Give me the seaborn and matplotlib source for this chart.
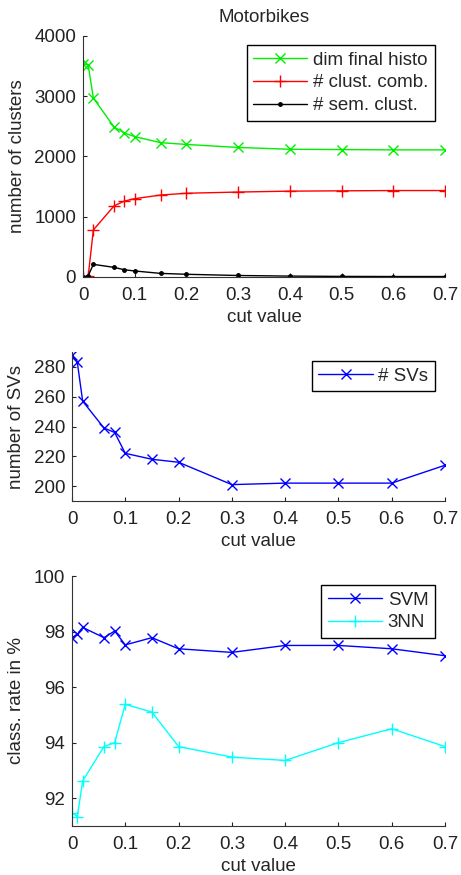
import pandas as pd
import seaborn as sns
import matplotlib.pyplot as plt

# cut values shared by all three panels
cut = [0, 0.01, 0.02, 0.06, 0.08, 0.1, 0.15, 0.2, 0.3, 0.4, 0.5, 0.6, 0.7]

# panel 1: number of clusters
dim_histo = [3540, 3520, 2970, 2490, 2390, 2330, 2230, 2200, 2150, 2120, 2115, 2110, 2110]
clust_comb = [0, 10, 780, 1180, 1260, 1300, 1360, 1390, 1410, 1425, 1430, 1435, 1435]
sem_clust = [0, 20, 210, 160, 120, 100, 60, 45, 25, 15, 10, 8, 8]

# panel 2: number of support vectors
n_svs = [288, 283, 257, 239, 236, 222, 218, 216, 201, 202, 202, 202, 214]

# panel 3: classification rate
svm = [97.78, 97.9, 98.15, 97.78, 98.02, 97.52, 97.78, 97.38, 97.25, 97.5, 97.5, 97.38, 97.13]
nn3 = [91.48, 91.34, 92.62, 93.86, 94.0, 95.38, 95.1, 93.86, 93.48, 93.36, 94.0, 94.5, 93.86]

FS = 13.5
sns.set_style("white")
plt.rcParams['font.family'] = ['Liberation Sans', 'DejaVu Sans']
plt.rcParams['font.size'] = FS
plt.rcParams['xtick.direction'] = 'in'
plt.rcParams['ytick.direction'] = 'in'
plt.rcParams['xtick.major.size'] = 3
plt.rcParams['ytick.major.size'] = 3
plt.rcParams['xtick.bottom'] = True
plt.rcParams['ytick.left'] = True

fig = plt.figure(figsize=(4.61, 8.75), dpi=100)
W, H = 461, 875
ax1 = fig.add_axes([83 / W, 1 - 277 / H, (445 - 83) / W, (277 - 36) / H])
ax2 = fig.add_axes([72 / W, 1 - 501 / H, (445 - 72) / W, (501 - 352) / H])
ax3 = fig.add_axes([72 / W, 1 - 826 / H, (445 - 72) / W, (826 - 576) / H])

lw = 1.0


def draw(ax, y, color, marker, ms, label):
    sns.lineplot(x=cut, y=y, ax=ax, color=color, marker=marker, markersize=ms,
                 markeredgewidth=1, markeredgecolor=color, markerfacecolor=color,
                 linewidth=lw, label=label)


draw(ax1, dim_histo, '#00ee00', 'x', 7, 'dim final histo')
draw(ax1, clust_comb, '#ff0000', '+', 9, '# clust. comb.')
draw(ax1, sem_clust, 'black', '.', 5, '# sem. clust.')
ax1.set_ylim(0, 4000)
ax1.set_yticks([0, 1000, 2000, 3000, 4000])
ax1.set_ylabel('number of clusters', labelpad=6)
ax1.set_title('Motorbikes', fontsize=FS, pad=10)

draw(ax2, n_svs, '#0000ff', 'x', 7, '# SVs')
ax2.set_ylim(190, 290)
ax2.set_yticks([200, 220, 240, 260, 280])
ax2.set_ylabel('number of SVs', labelpad=6)

draw(ax3, svm, '#0000ff', 'x', 7, 'SVM')
draw(ax3, nn3, '#00ffff', '+', 9, '3NN')
ax3.set_ylim(91, 100)
ax3.set_yticks([92, 94, 96, 98, 100])
ax3.set_ylabel('class. rate in %', labelpad=6)

# legend upper-right corners in pixels, per axes (x_right, y_top, axes box)
legend_pos = [
    (ax1, 435, 45, (83, 36, 445, 277)),
    (ax2, 435, 361, (72, 352, 445, 501)),
    (ax3, 435, 585, (72, 576, 445, 826)),
]

for ax, lx, ly, (x0, y0, x1, y1) in legend_pos:
    ax.set_xlim(0, 0.7)
    ax.set_xticks([0, 0.1, 0.2, 0.3, 0.4, 0.5, 0.6, 0.7])
    ax.set_xticklabels(['0', '0.1', '0.2', '0.3', '0.4', '0.5', '0.6', '0.7'])
    ax.set_xlabel('cut value', labelpad=4)
    sns.despine(ax=ax)
    for s in ('left', 'bottom'):
        ax.spines[s].set_color('#333333')
        ax.spines[s].set_linewidth(0.8)
    ax.tick_params(labelsize=FS, colors='#222222')
    ax.tick_params(axis='x', pad=7)
    ax.tick_params(axis='y', pad=5)
    anchor = ((lx - x0) / (x1 - x0), (y1 - ly) / (y1 - y0))
    leg = ax.legend(loc='upper right', bbox_to_anchor=anchor, fancybox=False,
                    framealpha=1, edgecolor='black', handlelength=2.9,
                    borderpad=0.35, borderaxespad=0, labelspacing=0.3,
                    handletextpad=0.3, fontsize=FS)
    leg.get_frame().set_linewidth(1.0)

fig.savefig('out.png', dpi=100)
